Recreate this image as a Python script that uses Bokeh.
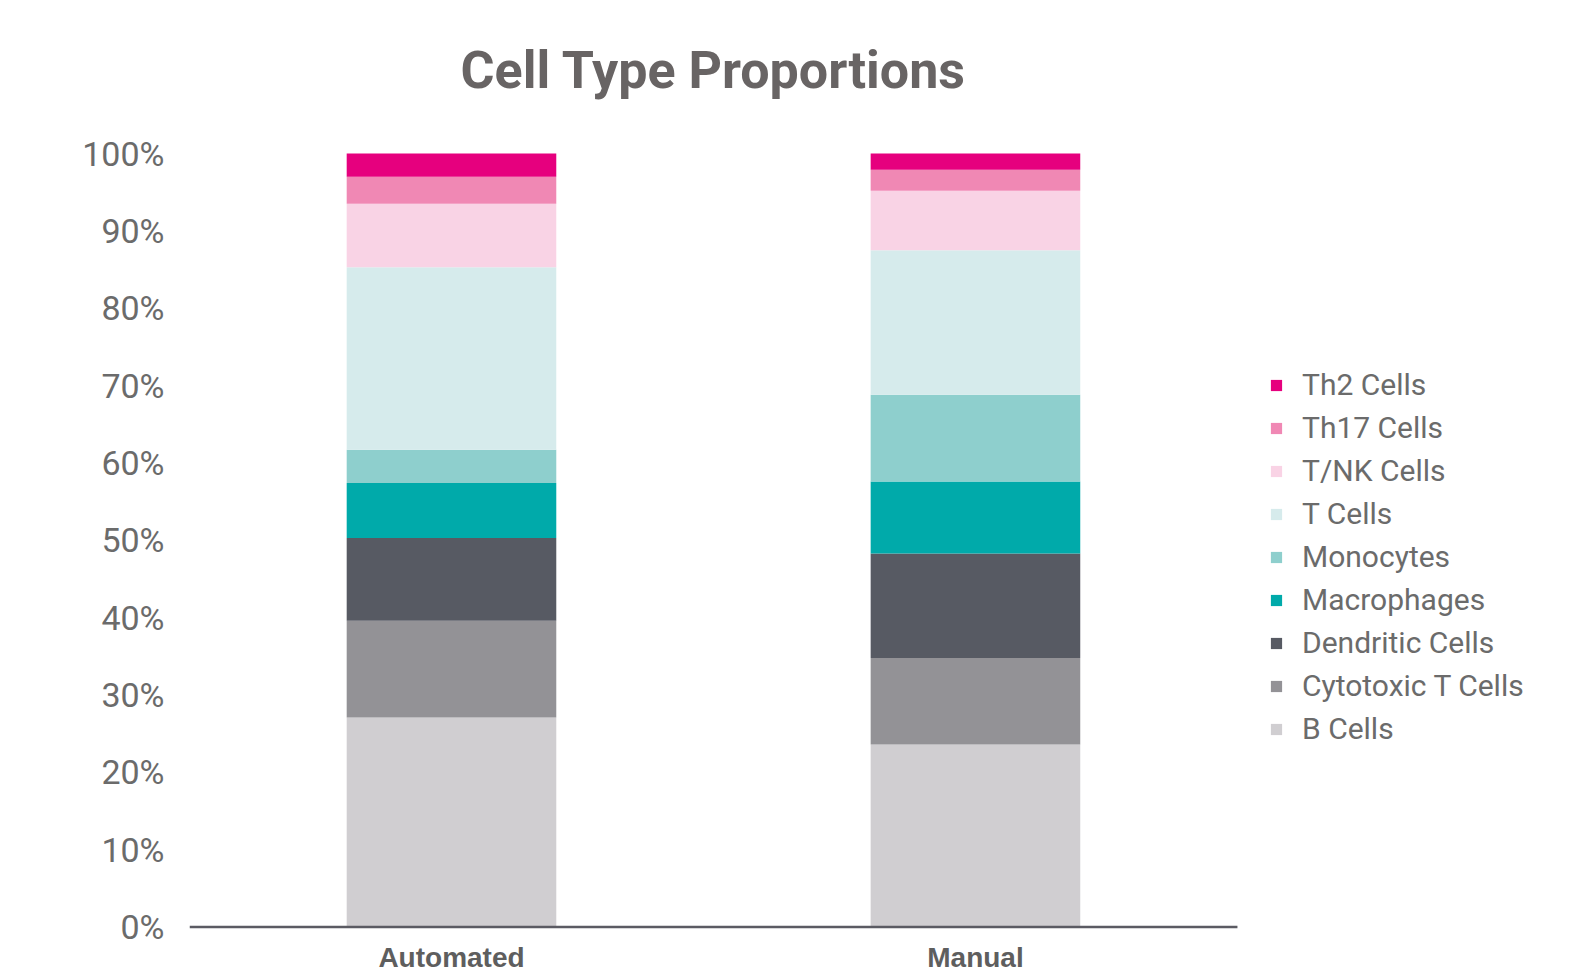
from bokeh.plotting import figure
from bokeh.models import (ColumnDataSource, Range1d, LinearAxis, FixedTicker,
                          PrintfTickFormatter, Legend, LegendItem)
from bokeh.core.properties import value
from bokeh.embed import file_html
from bokeh.resources import INLINE

# --- data -------------------------------------------------------------
categories = ["Automated", "Manual"]
cell_types = ["B Cells", "Cytotoxic T Cells", "Dendritic Cells", "Macrophages",
              "Monocytes", "T Cells", "T/NK Cells", "Th17 Cells", "Th2 Cells"]
automated = [27.1, 12.5, 10.7, 7.1, 4.3, 23.6, 8.2, 3.5, 3.0]
manual = [23.6, 11.2, 13.5, 9.3, 11.2, 18.7, 7.7, 2.7, 2.1]
colors = ["#D0CED1", "#939296", "#575A63", "#00AAAA", "#8ECFCD",
          "#D6EBEC", "#F9D3E5", "#F088B4", "#E6007E"]
y_ticks = list(range(0, 101, 10))

# --- figure -----------------------------------------------------------
n = len(categories)
xs = [i + 0.5 for i in range(n)]
keys = [f"s{i}" for i in range(len(cell_types))]
data = {"x": xs}
for k, a, m in zip(keys, automated, manual):
    data[k] = [a, m]
source = ColumnDataSource(data)

p = figure(width=1577, height=970,
           x_range=Range1d(0, 2.649), y_range=Range1d(-5.61, 119.78),
           x_axis_type=None, y_axis_type=None,
           output_backend="svg", toolbar_location=None,
           min_border_left=189, min_border_right=0,
           min_border_top=0, min_border_bottom=0)
p.outline_line_color = None
p.background_fill_color = "white"
p.border_fill_color = "white"

TEXT = "#6b6b6b"

yaxis = LinearAxis(ticker=FixedTicker(ticks=y_ticks),
                   formatter=PrintfTickFormatter(format="%d%%"))
yaxis.axis_line_color = None
yaxis.major_tick_line_color = None
yaxis.minor_tick_line_color = None
yaxis.major_tick_out = 0
yaxis.major_label_standoff = 25
yaxis.major_label_text_font = "Roboto"
yaxis.major_label_text_font_size = "34px"
yaxis.major_label_text_color = TEXT
p.add_layout(yaxis, "left")

renderers = p.vbar_stack(keys, x="x", width=0.4, color=colors,
                         line_color=None, source=source)

# baseline under the bars
p.segment(x0=0, y0=0, x1=n, y1=0, line_color="#5b5b63", line_width=2.5)

# category labels under the baseline
p.text(x="x", y=-1.95, text="cat",
       source=ColumnDataSource(dict(x=xs, cat=categories)),
       text_align="center", text_baseline="top",
       text_font=value("Liberation Sans"), text_font_style="bold",
       text_font_size="28px", text_color="#5e5e5e")

# title
p.text(x=[n / 2], y=[110.73], text=["Cell Type Proportions"],
       text_align="center", text_baseline="middle",
       text_font=value("Roboto"), text_font_style="bold",
       text_font_size="52px", text_color="#686464")

items = [LegendItem(label=name, renderers=[r])
         for name, r in reversed(list(zip(cell_types, renderers)))]
legend = Legend(items=items, location=(1080, 224),
                glyph_width=14, glyph_height=14, label_standoff=19,
                spacing=8, padding=0, margin=0,
                border_line_color=None, background_fill_alpha=0,
                label_text_font="Roboto", label_text_font_size="30px",
                label_text_color=TEXT)
p.add_layout(legend)

open("out.html", "w").write(file_html(p, INLINE))
